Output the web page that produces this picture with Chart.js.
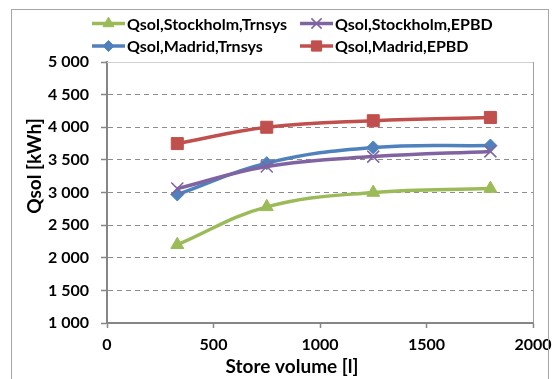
<!DOCTYPE html>
<html>
<head>
<meta charset="utf-8">
<script src="https://cdn.jsdelivr.net/npm/chart.js@4"></script>
<style>
  body { margin: 0; background: #fff; }
  #wrap { position: relative; width: 552px; height: 379px; }
</style>
</head>
<body>
<div id="wrap"><canvas id="qsolChart" width="552" height="379"></canvas></div>
<script>
// store volume [l]
const volumes = [330, 750, 1250, 1800];
const stockholmTrnsys = [2200, 2780, 3000, 3060];
const stockholmEpbd = [3060, 3400, 3550, 3630];
const madridTrnsys = [2970, 3450, 3690, 3720];
const madridEpbd = [3750, 4000, 4100, 4150];
const seriesNames = ['Qsol,Stockholm,Trnsys', 'Qsol,Stockholm,EPBD', 'Qsol,Madrid,Trnsys', 'Qsol,Madrid,EPBD'];
const yTicks = [1000, 1500, 2000, 2500, 3000, 3500, 4000, 4500, 5000];
const xTicks = [0, 500, 1000, 1500, 2000];

const FONT = 'Lato';

function pts(vals){
    return vals.map((v, i) => ({x: volumes[i], y: v}));
}
function thousands(v){
    return String(v).replace(/\B(?=(\d{3})+$)/g, ' ');
}

function makeSet(label, vals, color, style, radius, bw){
    return {
        label: label,
        data: pts(vals),
        borderColor: color,
        backgroundColor: color,
        borderWidth: 3.5,
        pointStyle: style,
        pointRadius: radius,
        pointBorderWidth: bw,
        pointBackgroundColor: color,
        pointBorderColor: color,
        tension: 0.4,
        showLine: true,
        fill: false
    };
}

const sets = [
    makeSet(seriesNames[0], stockholmTrnsys, '#9BBB59', 'triangle', 7.5, 1),
    makeSet(seriesNames[1], stockholmEpbd, '#8064A2', 'crossRot', 8.5, 1.5),
    makeSet(seriesNames[2], madridTrnsys, '#4F81BD', 'rectRot', 6.5, 1),
    makeSet(seriesNames[3], madridEpbd, '#C0504D', 'rect', 8.5, 1)
];

// legend, axis titles and frame drawn where excel put them
const extras = {
    id: 'extras',
    afterDraw(chart){
        const ctx = chart.ctx;
        const a = chart.chartArea;
        ctx.save();
        // outer frame
        ctx.strokeStyle = '#a6a6a6';
        ctx.lineWidth = 1;
        ctx.strokeRect(11.5, 9.5, 537, 400);
        // plot border top/right
        ctx.strokeStyle = '#d0d0d0';
        ctx.beginPath();
        ctx.moveTo(a.left, a.top + 0.5);
        ctx.lineTo(a.right, a.top + 0.5);
        ctx.stroke();
        ctx.strokeStyle = '#a0a0a0';
        ctx.beginPath();
        ctx.moveTo(a.right + 0.5, a.top);
        ctx.lineTo(a.right + 0.5, a.bottom);
        ctx.stroke();

        // legend
        const spots = [[92, 23.5], [300, 23.5], [92, 46], [300, 46]];
        ctx.font = 'bold 16px ' + FONT;
        ctx.textBaseline = 'middle';
        ctx.textAlign = 'left';
        chart.data.datasets.forEach((ds, i) => {
            const [x, y] = spots[i];
            ctx.strokeStyle = ds.borderColor;
            ctx.lineWidth = 3.5;
            ctx.beginPath();
            ctx.moveTo(x, y);
            ctx.lineTo(x + 33, y);
            ctx.stroke();
            ctx.fillStyle = ds.borderColor;
            ctx.lineWidth = ds.pointBorderWidth;
            Chart.helpers.drawPoint(ctx, {
                pointStyle: ds.pointStyle,
                radius: ds.pointRadius * 0.85,
                rotation: 0,
                borderWidth: ds.pointBorderWidth
            }, x + 16.5, y);
            ctx.fillStyle = '#000';
            ctx.fillText(ds.label, x + 35, y + 1);
        });

        // axis titles
        ctx.fillStyle = '#000';
        ctx.textAlign = 'center';
        ctx.font = 'bold 19px ' + FONT;
        ctx.fillText('Store volume [l]', 292, 367);
        ctx.translate(35, 166);
        ctx.rotate(-Math.PI / 2);
        ctx.fillText('Qsol [kWh]', 0, 0);
        ctx.restore();
    }
};

function makechart(){
    let qchart = document.getElementById('qsolChart');
    new Chart(qchart, {
        type: 'scatter',
        data: { datasets: sets },
        plugins: [extras],
        options: {
            responsive: false,
            animation: false,
            layout: { padding: { top: 62, right: 19, left: 0, bottom: 0 } },
            plugins: {
                legend: { display: false },
                tooltip: { enabled: false }
            },
            scales: {
                x: {
                    type: 'linear',
                    min: 0,
                    max: 2000,
                    afterBuildTicks: (s) => { s.ticks = xTicks.map(v => ({value: v})); },
                    afterFit: (s) => { s.height = 379 - 323; s.paddingRight = 0; s.paddingLeft = 0; },
                    grid: {
                        drawOnChartArea: false,
                        tickLength: 5,
                        tickColor: '#868686',
                        tickWidth: 1.5
                    },
                    border: { color: '#868686', width: 2 },
                    ticks: {
                        padding: 7,
                        color: '#000',
                        font: { family: FONT, size: 16, weight: 'bold' },
                        callback: (v) => String(v)
                    }
                },
                y: {
                    min: 1000,
                    max: 5000,
                    afterBuildTicks: (s) => { s.ticks = yTicks.map(v => ({value: v})); },
                    afterFit: (s) => { s.width = 107; s.paddingTop = 0; s.paddingBottom = 0; },
                    grid: {
                        color: (c) => c.tick && c.tick.value == 5000 ? 'rgba(0,0,0,0)' : '#8c8c8c',
                        lineWidth: 1,
                        tickLength: 6,
                        tickColor: '#868686',
                        tickWidth: 1.5,
                        tickBorderDash: []
                    },
                    border: { color: '#868686', width: 2, dash: [5, 4] },
                    ticks: {
                        padding: 12,
                        color: '#000',
                        font: { family: FONT, size: 16, weight: 'bold' },
                        callback: (v) => thousands(v)
                    }
                }
            }
        }
    });
}
makechart();
</script>
</body>
</html>
